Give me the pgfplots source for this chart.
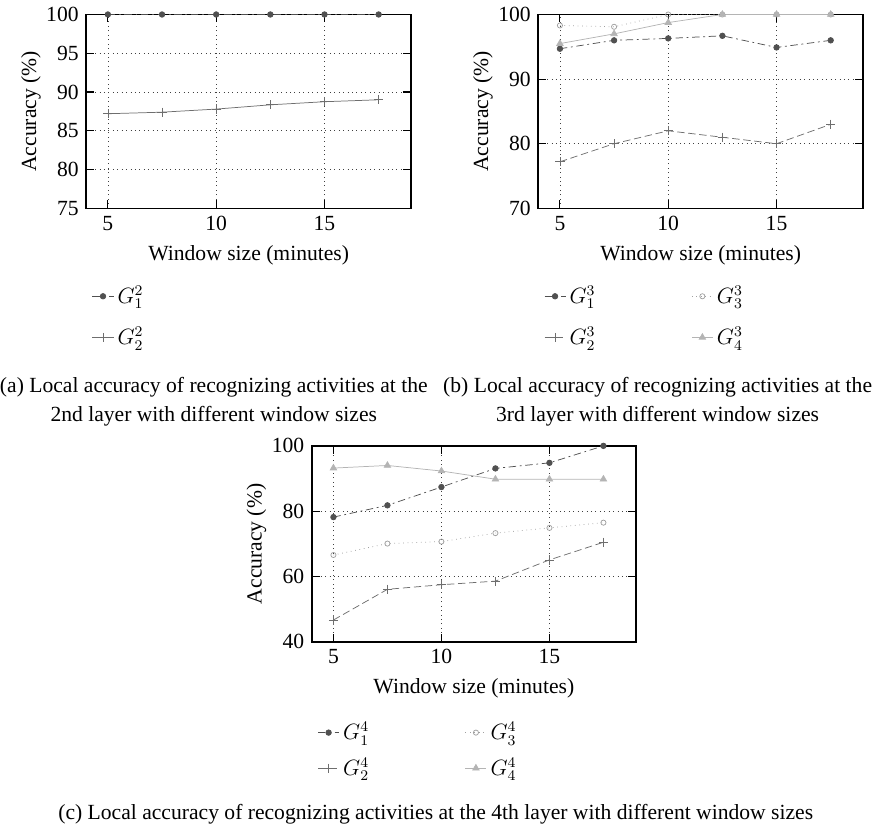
\documentclass[border=0pt]{standalone}
\usepackage{fontspec}
\setmainfont{Liberation Serif}
\usepackage{pgfplots}
\pgfplotsset{compat=1.18}

\definecolor{gA}{HTML}{505050}
\definecolor{gB}{HTML}{6E6E6E}
\definecolor{gC}{HTML}{A0A0A0}
\definecolor{gD}{HTML}{B4B4B4}

\pgfplotsset{
  panel/.style={
    scale only axis,
    width=176pt, height=105pt,
    xmin=4, xmax=19,
    xtick={5,10,15},
    grid=major,
    major grid style={dotted, black!75},
    axis line style={line width=0.9pt},
    tick style={black, line width=0.6pt},
    tick align=inside,
    /pgf/number format/assume math mode=true,
    xlabel={Window size (minutes)},
    ylabel={Accuracy (\%)},
    ylabel shift=-5pt,
    legend cell align=left,
    legend image code/.code={%
      \draw[mark repeat=2, mark phase=2, ##1] plot coordinates {(0cm,0cm) (0.2cm,0cm) (0.4cm,0cm)};},
    legend style={draw=none, fill=none, row sep=7pt,
      /tikz/every even column/.append style={column sep=50pt}},
  },
  s1/.style={color=gA, dash pattern=on 4pt off 2pt on 1pt off 2pt, mark=*, mark size=1.5pt, mark options={solid}},
  s2/.style={color=gB, dash pattern=on 4pt off 2pt, mark=+, mark size=2.5pt, mark options={solid}},
  s3/.style={color=gC, dotted, mark=o, mark size=1.4pt, mark options={solid}},
  s4/.style={color=gD, solid, mark=triangle*, mark size=2pt},
}

\begin{document}%
\fontsize{11.7}{14}\selectfont%
\begin{tikzpicture}
% (a) 2nd layer
\begin{axis}[panel, at={(50.5pt,-111.65pt)}, anchor=south west,
    ymin=75, ymax=100, ytick={75,80,...,100},
    legend style={at={(0,-0.36)}, anchor=north west}]
  \addplot[s1] coordinates {(5,100) (7.5,100) (10,100) (12.5,100) (15,100) (17.5,100)};
  \addplot[s2, solid] coordinates {(5,87.2) (7.5,87.4) (10,87.8) (12.5,88.35) (15,88.75) (17.5,89.0)};
  \legend{$G_1^2$, $G_2^2$}
\end{axis}
% (b) 3rd layer
\begin{axis}[panel, at={(295.35pt,-111.65pt)}, anchor=south west,
    ymin=70, ymax=100, ytick={70,80,90,100},
    legend columns=2, transpose legend,
    legend style={at={(0,-0.36)}, anchor=north west}]
  \addplot[s1] coordinates {(5,94.7) (7.5,96.0) (10,96.3) (12.5,96.7) (15,94.9) (17.5,96.0)};
  \addplot[s2] coordinates {(5,77.2) (7.5,80.0) (10,82.0) (12.5,81.0) (15,80.0) (17.5,83.0)};
  \addplot[s3] coordinates {(5,98.3) (7.5,98.1) (10,100) (12.5,100) (15,100) (17.5,100)};
  \addplot[s4] coordinates {(5,95.5) (7.5,97.0) (10,98.75) (12.5,100) (15,100) (17.5,100)};
  \legend{$G_1^3$, $G_2^3$, $G_3^3$, $G_4^3$}
\end{axis}
% (c) 4th layer
\begin{axis}[panel, at={(172.7pt,-346.5pt)}, anchor=south west,
    width=175.5pt, height=106.2pt,
    ymin=40, ymax=100, ytick={40,60,80,100},
    legend columns=2, transpose legend,
    legend style={at={(0,-0.37)}, anchor=north west, row sep=4pt}]
  \addplot[s1] coordinates {(5,78.2) (7.5,81.8) (10,87.4) (12.5,93.1) (15,94.8) (17.5,100)};
  \addplot[s2] coordinates {(5,46.7) (7.5,56.1) (10,57.5) (12.5,58.6) (15,65.1) (17.5,70.5)};
  \addplot[s3] coordinates {(5,66.6) (7.5,70.1) (10,70.7) (12.5,73.3) (15,74.9) (17.5,76.5)};
  \addplot[s4] coordinates {(5,93.2) (7.5,94.0) (10,92.3) (12.5,89.8) (15,89.8) (17.5,89.8)};
  \legend{$G_1^4$, $G_2^4$, $G_3^4$, $G_4^4$}
\end{axis}
% captions
\node[align=center, anchor=north, inner sep=0pt] at (119.6pt,-203pt)
  {(a) Local accuracy of recognizing activities at the\\[1.5pt] 2nd layer with different window sizes};
\node[align=center, anchor=north, inner sep=0pt] at (360pt,-203pt)
  {(b) Local accuracy of recognizing activities at the\\[1.5pt] 3rd layer with different window sizes};
\node[anchor=north, inner sep=0pt] at (239.8pt,-434pt)
  {(c) Local accuracy of recognizing activities at the 4th layer with different window sizes};
\end{tikzpicture}%
\end{document}
